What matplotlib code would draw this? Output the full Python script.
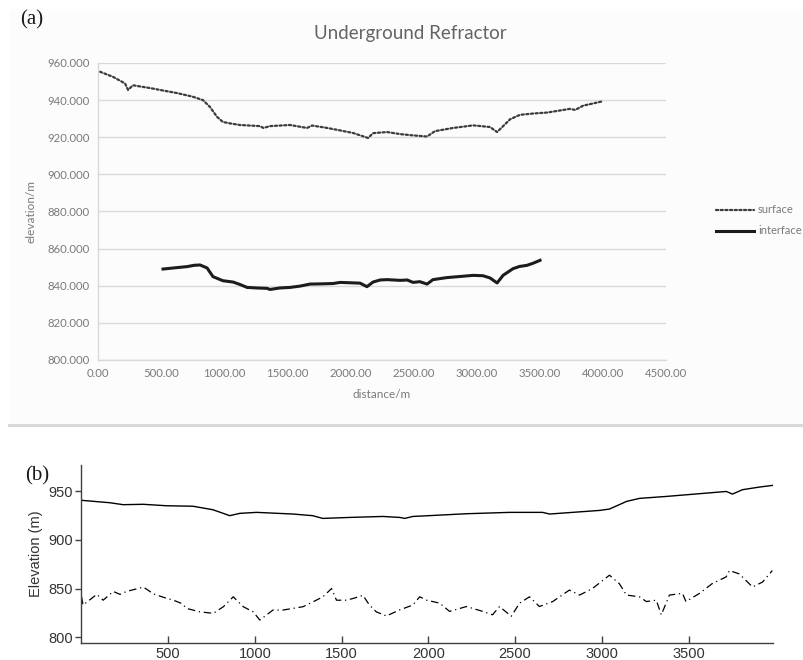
import matplotlib
matplotlib.use("Agg")
import matplotlib.pyplot as plt
from matplotlib.lines import Line2D

# ---- Panel (a): Underground Refractor ----
a_surface_dist = [16, 120, 214, 238, 277, 412, 530, 626, 753, 832, 887, 943, 990,
                  1060, 1125, 1284, 1310, 1363, 1521, 1656, 1696, 1800, 1894, 2021,
                  2140, 2179, 2290, 2393, 2496, 2607, 2670, 2813, 2972, 3106, 3162,
                  3265, 3344, 3450, 3558, 3740, 3780, 3843, 3994]
a_surface_elev = [955.3, 952.5, 949.0, 945.5, 948.0, 946.5, 945.0, 943.8, 941.8, 940.0,
                  936.3, 931.0, 928.2, 927.3, 926.6, 926.0, 925.0, 926.0, 926.6, 925.0,
                  926.3, 925.2, 924.0, 922.3, 919.6, 922.2, 922.8, 921.7, 921.0, 920.4,
                  923.3, 925.0, 926.4, 925.5, 922.8, 929.7, 932.1, 932.8, 933.3, 935.3,
                  934.7, 937.0, 939.3]

a_interface_dist = [515, 600, 705, 760, 808, 864, 911, 990, 1070, 1120, 1181, 1260, 1339,
                    1363, 1440, 1521, 1600, 1680, 1760, 1862, 1918, 2000, 2076, 2131,
                    2179, 2235, 2290, 2393, 2450, 2496, 2550, 2607, 2654, 2765, 2870,
                    2972, 3050, 3106, 3162, 3209, 3288, 3340, 3399, 3450, 3502]
a_interface_elev = [849.0, 849.6, 850.3, 851.0, 851.2, 849.6, 844.9, 842.7, 842.0, 840.8,
                    839.1, 838.8, 838.6, 838.0, 838.8, 839.1, 839.8, 840.9, 841.0, 841.2,
                    841.8, 841.6, 841.4, 839.5, 842.0, 843.1, 843.3, 842.9, 843.1, 841.8,
                    842.2, 840.9, 843.3, 844.4, 845.0, 845.6, 845.4, 844.2, 841.5, 845.6,
                    849.2, 850.4, 851.0, 852.2, 853.7]

a_yticks = [800, 820, 840, 860, 880, 900, 920, 940, 960]
a_xticks = [0, 500, 1000, 1500, 2000, 2500, 3000, 3500, 4000, 4500]

# ---- Panel (b) ----
b_surface_dist = [0, 164, 240, 356, 491, 643, 758, 855, 913, 1010, 1218, 1333, 1391,
                  1547, 1737, 1835, 1864, 1910, 1990, 2220, 2468, 2658, 2699, 2831,
                  2987, 3044, 3143, 3218, 3373, 3563, 3718, 3753, 3811, 3908, 3983]
b_surface_elev = [940.7, 938.2, 936.2, 936.6, 935.1, 934.6, 931.0, 924.9, 927.3, 928.3,
                  926.6, 924.9, 922.1, 923.1, 924.1, 923.1, 922.1, 924.1, 924.8, 926.9,
                  928.3, 928.3, 926.6, 928.3, 930.3, 931.7, 939.6, 942.7, 944.7, 947.5,
                  949.8, 947.1, 951.6, 954.3, 956.0]

b_interface_dist = [0, 9, 88, 125, 183, 222, 260, 357, 415, 472, 530, 578, 607, 683, 760,
                    818, 875, 933, 990, 1028, 1066, 1104, 1162, 1220, 1277, 1336, 1392,
                    1442, 1470, 1527, 1566, 1623, 1660, 1700, 1758, 1834, 1910, 1950,
                    1990, 2065, 2122, 2220, 2313, 2370, 2410, 2478, 2526, 2583, 2640,
                    2717, 2813, 2872, 2946, 3044, 3101, 3142, 3217, 3257, 3314, 3343,
                    3390, 3465, 3485, 3563, 3636, 3717, 3736, 3793, 3869, 3927, 3983]
b_interface_elev = [841.5, 833.0, 844.0, 838.0, 847.0, 844.0, 847.0, 851.5, 844.5, 841.0,
                    838.0, 834.6, 829.5, 826.0, 824.5, 831.3, 841.5, 831.3, 826.0, 817.6,
                    822.7, 827.9, 827.9, 829.6, 831.3, 836.4, 841.5, 850.0, 838.0, 838.0,
                    839.8, 843.0, 833.0, 826.0, 821.8, 828.0, 833.0, 841.5, 838.0, 835.0,
                    826.5, 831.5, 826.5, 823.0, 831.5, 821.5, 835.0, 841.5, 831.5, 836.6,
                    848.4, 843.3, 850.0, 863.7, 855.0, 843.3, 841.5, 836.6, 838.0, 823.0,
                    843.3, 845.0, 836.6, 845.0, 855.0, 862.0, 868.5, 865.0, 851.6, 856.7,
                    868.5]

b_yticks = [800, 850, 900, 950]
b_xticks = [500, 1000, 1500, 2000, 2500, 3000, 3500]

W, H = 804, 660
fig = plt.figure(figsize=(W / 100, H / 100), dpi=100)
fig.patch.set_facecolor("white")


def box(left, top, right, bottom):
    return [left / W, 1 - bottom / H, (right - left) / W, (bottom - top) / H]


office_font = "Lato"
grey_text = "#7a7a7a"
grid_col = "#d9d9d9"

# Panel (a) background and separator
fig.add_artist(plt.Rectangle((9 / W, 1 - 423 / H), 795 / W, 414 / H,
                             transform=fig.transFigure, facecolor="#fcfcfc",
                             edgecolor="none", zorder=0))
fig.add_artist(Line2D([9 / W, 1.0], [1 - 425 / H, 1 - 425 / H],
                      transform=fig.transFigure, color="#d9d9d9", lw=2.2))

ax1 = fig.add_axes(box(98, 63, 666, 360))
ax1.set_facecolor("none")
ax1.plot(a_surface_dist, a_surface_elev, color="#3c3c3c", lw=1.6,
         linestyle=(0, (1, 1.1)), dash_capstyle="round", label="surface")
ax1.plot(a_interface_dist, a_interface_elev, color="#1c1c1c", lw=2.2,
         solid_joinstyle="round", label="interface")
ax1.set_xlim(0, 4500)
ax1.set_ylim(800, 960)
ax1.set_yticks(a_yticks)
ax1.set_xticks(a_xticks)
ax1.set_yticklabels([f"{v:.3f}" for v in a_yticks])
ax1.set_xticklabels([f"{v:.2f}" for v in a_xticks])
ax1.grid(axis="y", color=grid_col, lw=1.0)
ax1.set_axisbelow(True)
for side in ("top", "right"):
    ax1.spines[side].set_visible(False)
for side in ("left", "bottom"):
    ax1.spines[side].set_color(grid_col)
    ax1.spines[side].set_linewidth(1.0)
ax1.tick_params(length=0, labelsize=8.2, labelcolor=grey_text, pad=6)
for lbl in ax1.get_xticklabels() + ax1.get_yticklabels():
    lbl.set_fontfamily(office_font)
ax1.set_xlabel("distance/m", fontsize=8.5, color=grey_text, family=office_font, labelpad=7)
ax1.set_ylabel("elevation/m", fontsize=8.5, color=grey_text, family=office_font, labelpad=8)
ax1.set_title("Underground Refractor", fontsize=13.5, color="#646464",
              family=office_font, pad=17, x=0.55)
leg = ax1.legend(loc="center left", bbox_to_anchor=(1.07, 0.47), frameon=False,
                 handlelength=3.4, handletextpad=0.4, labelspacing=0.9,
                 prop={"family": office_font, "size": 8})
for t in leg.get_texts():
    t.set_color(grey_text)

fig.text(20 / W, 1 - 20 / H, "(a)", family="Liberation Serif", fontsize=15,
         color="#1a1a1a", va="center", ha="left")

# Panel (b)
ax2 = fig.add_axes(box(81.5, 465, 773, 643))
ax2.plot(b_surface_dist, b_surface_elev, color="black", lw=1.0)
ax2.plot(b_interface_dist, b_interface_elev, color="black", lw=0.9,
         linestyle=(0, (6, 3, 1, 3)))
ax2.set_xlim(0, 3987)
ax2.set_ylim(794, 977)
ax2.set_xticks(b_xticks)
ax2.set_yticks(b_yticks)
for side in ("top", "right"):
    ax2.spines[side].set_visible(False)
for side in ("left", "bottom"):
    ax2.spines[side].set_color("#404040")
    ax2.spines[side].set_linewidth(1.0)
ax2.tick_params(axis="x", direction="in", length=5, width=1, color="#404040",
                labelsize=10.5, pad=3)
ax2.tick_params(axis="y", direction="out", length=4, width=1, color="#404040",
                labelsize=10.5, pad=2)
for lbl in ax2.get_xticklabels() + ax2.get_yticklabels():
    lbl.set_fontfamily("Liberation Sans")
    lbl.set_color("#333333")
ax2.set_ylabel("Elevation (m)", fontsize=10.5, family="Liberation Sans",
               color="#333333", labelpad=4)

fig.text(25 / W, 1 - 476 / H, "(b)", family="Liberation Serif", fontsize=15,
         color="#1a1a1a", va="center", ha="left")

fig.savefig("out.png", dpi=100)
